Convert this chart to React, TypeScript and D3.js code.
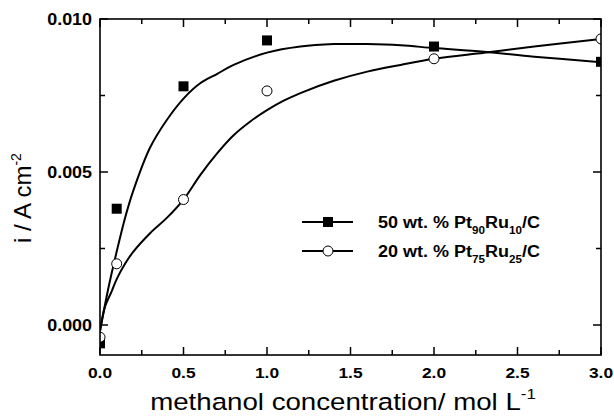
import React from "react";
import * as d3 from "d3";

const concX = [0, 0.1, 0.5, 1.0, 2.0, 3.0];
const seriesA = [-0.0006, 0.0038, 0.0078, 0.0093, 0.0091, 0.0086];
const seriesB = [-0.0004, 0.002, 0.0041, 0.00765, 0.0087, 0.00935];

const fitAX = [0, 0.05, 0.1, 0.15, 0.2, 0.3, 0.4, 0.5, 0.6, 0.7, 0.8, 1.0, 1.2, 1.4, 1.6, 1.8, 2.0, 2.3, 2.6, 3.0];
const fitAY = [-0.0002, 0.0012, 0.0024, 0.0035, 0.0044, 0.0058, 0.0067, 0.0074, 0.0079, 0.0082, 0.0085, 0.0089, 0.0091, 0.00918, 0.00918, 0.00914, 0.00905, 0.00893, 0.00877, 0.00859];
const fitBX = [0, 0.03, 0.07, 0.1, 0.15, 0.2, 0.3, 0.4, 0.5, 0.6, 0.7, 0.8, 0.9, 1.0, 1.1, 1.2, 1.4, 1.6, 1.8, 2.0, 2.3, 2.6, 3.0];
const fitBY = [-0.0002, 0.0006, 0.0011, 0.0015, 0.002, 0.0024, 0.003, 0.0035, 0.0041, 0.0049, 0.0056, 0.0062, 0.00665, 0.00702, 0.00733, 0.00758, 0.00798, 0.00828, 0.0085, 0.0087, 0.0089, 0.0091, 0.00935];

const xTicks = [0, 0.5, 1.0, 1.5, 2.0, 2.5, 3.0];
const xMinor = [0.25, 0.75, 1.25, 1.75, 2.25, 2.75];
const yTicks = [0, 0.005, 0.01];
const yMinor = [0.0025, 0.0075];

const legendLabels = [
  { pre: "50 wt. % Pt", s1: "90", mid: "Ru", s2: "10", post: "/C" },
  { pre: "20 wt. % Pt", s1: "75", mid: "Ru", s2: "25", post: "/C" },
];

export default function App() {
  const W = 614, H = 416;
  const L = 100, R = 601, T = 19, B = 355;
  const x = d3.scaleLinear().domain([0, 3]).range([L, R]);
  const y = d3.scaleLinear().domain([0, 0.01]).range([325, 19]);
  const line = d3.line<[number, number]>().x(d => x(d[0])).y(d => y(d[1])).curve(d3.curveCatmullRom.alpha(0.5));
  const pathA = line(fitAX.map((v, i) => [v, fitAY[i]]) as [number, number][]) || "";
  const pathB = line(fitBX.map((v, i) => [v, fitBY[i]]) as [number, number][]) || "";
  const font = "'Liberation Sans', Arial, sans-serif";
  const maj = 8, mnr = 5;
  const sx = 1.12;
  return (
    <svg width={W} height={H} style={{ position: "absolute", left: 0, top: 0, background: "#fff" }} fontFamily={font}>
      <defs>
        <clipPath id="plot"><rect x={L} y={T} width={R - L} height={B - T} /></clipPath>
      </defs>
      <rect x={0} y={0} width={W} height={H} fill="#fff" />
      <g clipPath="url(#plot)">
        <path d={pathA} fill="none" stroke="#000" strokeWidth={2} />
        <path d={pathB} fill="none" stroke="#000" strokeWidth={2} />
        {concX.map((c, i) => (
          <rect key={"a" + i} x={x(c) - 5} y={y(seriesA[i]) - 5} width={10} height={10} fill="#000" />
        ))}
        {concX.map((c, i) => (
          <circle key={"b" + i} cx={x(c)} cy={y(seriesB[i])} r={5} fill="#fff" stroke="#000" strokeWidth={1} />
        ))}
      </g>
      <rect x={L} y={T} width={R - L} height={B - T} fill="none" stroke="#000" strokeWidth={1.6} />
      {xTicks.map(t => (
        <g key={"xt" + t}>
          <line x1={x(t)} x2={x(t)} y1={B} y2={B - maj} stroke="#000" strokeWidth={1.5} />
          <line x1={x(t)} x2={x(t)} y1={T} y2={T + maj} stroke="#000" strokeWidth={1.5} />
          <text transform={`translate(${x(t)},378) scale(${sx},1)`} textAnchor="middle" fontSize={15.5} fontWeight="bold">{t.toFixed(1)}</text>
        </g>
      ))}
      {xMinor.map(t => (
        <g key={"xm" + t}>
          <line x1={x(t)} x2={x(t)} y1={B} y2={B - mnr} stroke="#000" strokeWidth={1.5} />
          <line x1={x(t)} x2={x(t)} y1={T} y2={T + mnr} stroke="#000" strokeWidth={1.5} />
        </g>
      ))}
      {yTicks.map(t => (
        <g key={"yt" + t}>
          <line x1={L} x2={L + maj} y1={y(t)} y2={y(t)} stroke="#000" strokeWidth={1.5} />
          <line x1={R} x2={R - maj} y1={y(t)} y2={y(t)} stroke="#000" strokeWidth={1.5} />
          <text transform={`translate(92,${y(t) + 6}) scale(${sx},1)`} textAnchor="end" fontSize={16} fontWeight="bold">{t.toFixed(3)}</text>
        </g>
      ))}
      {yMinor.map(t => (
        <g key={"ym" + t}>
          <line x1={L} x2={L + mnr} y1={y(t)} y2={y(t)} stroke="#000" strokeWidth={1.5} />
          <line x1={R} x2={R - mnr} y1={y(t)} y2={y(t)} stroke="#000" strokeWidth={1.5} />
        </g>
      ))}
      <text transform={`translate(343,410) scale(1.13,1)`} textAnchor="middle" fontSize={24.5}>
        methanol concentration/ mol L<tspan dy={-11} fontSize={15}>-1</tspan>
      </text>
      <text transform="translate(31,198) rotate(-90)" textAnchor="middle" fontSize={24}>
        i / A cm<tspan dy={-10} fontSize={14}>-2</tspan>
      </text>
      {legendLabels.map((lg, i) => {
        const ly = 222 + i * 29;
        return (
          <g key={"lg" + i}>
            <line x1={302} x2={353} y1={ly} y2={ly} stroke="#000" strokeWidth={2} />
            {i === 0 ? (
              <rect x={323} y={ly - 5} width={10} height={10} fill="#000" />
            ) : (
              <circle cx={328} cy={ly} r={5} fill="#fff" stroke="#000" strokeWidth={1} />
            )}
            <text transform={`translate(378,${ly + 6}) scale(1.06,1)`} fontSize={17} fontWeight="bold">
              {lg.pre}
              <tspan dy={6} fontSize={11}>{lg.s1}</tspan>
              <tspan dy={-6}>{lg.mid}</tspan>
              <tspan dy={6} fontSize={11}>{lg.s2}</tspan>
              <tspan dy={-6}>{lg.post}</tspan>
            </text>
          </g>
        );
      })}
    </svg>
  );
}
